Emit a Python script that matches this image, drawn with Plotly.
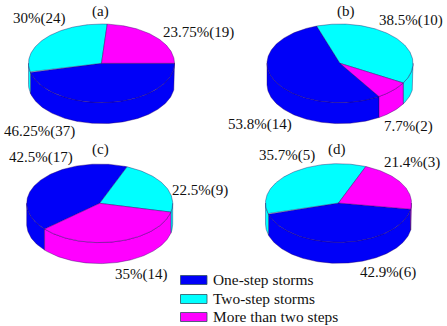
import numpy as np
import plotly.graph_objects as go

# Data
series = ["One-step storms", "Two-step storms", "More than two steps"]
colors = ["#0000f8", "#00ffff", "#ff00ff"]
panel_names = ["(a)", "(b)", "(c)", "(d)"]
counts_a = [37, 24, 19]
counts_b = [14, 10, 2]
counts_c = [17, 9, 14]
counts_d = [6, 5, 3]
percent_a = [46.25, 30, 23.75]
percent_b = [53.8, 38.5, 7.7]
percent_c = [42.5, 22.5, 35]
percent_d = [42.9, 35.7, 21.4]
start_angles = [0, -57.7, 221, -9]      # where the first slice starts, clockwise

# Layout (pixel space of the 447x326 figure)
centres = [(101.5, 63.3), (340, 63.3), (99.7, 203.3), (338.5, 203)]
RX, RY, DEPTH = 73, 39.3, 21
label_xy = {
    "a": [(39, 131), (39, 18), (198, 32)],
    "b": [(260, 124), (411, 20), (408, 126)],
    "c": [(41, 157), (200, 190), (141, 274)],
    "d": [(388, 272), (287, 155), (412, 162)],
}
title_xy = [(100, 11), (346, 11), (100, 149), (337, 149)]
legend_y = [280, 299, 317]
EDGE = "rgba(35,0,90,0.55)"
FONT = "Liberation Serif"


def arc(cx, cy, a1, a2, dy=0.0):
    t = np.radians(np.linspace(a1, a2, max(int(abs(a2 - a1)), 2) + 1))
    return cx + RX * np.cos(t), cy - RY * np.sin(t) + dy


fig = go.Figure()
panels = [percent_a, percent_b, percent_c, percent_d]

for (cx, cy), pct, start in zip(centres, panels, start_angles):
    edges = start - np.concatenate([[0], np.cumsum(pct)]) * 3.6
    # side walls: the part of each slice's rim on the front half of the ellipse
    for i in range(3):
        hi, lo = edges[i], edges[i + 1]
        for k in (-2, -1, 0, 1):
            a = max(lo, 180 + 360 * k)
            b = min(hi, 360 + 360 * k)
            if b > a:
                x1, y1 = arc(cx, cy, a, b)
                x2, y2 = arc(cx, cy, b, a, DEPTH)
                fig.add_trace(go.Scatter(
                    x=np.r_[x1, x2, x1[0]], y=np.r_[y1, y2, y1[0]],
                    mode="lines", fill="toself", fillcolor=colors[i],
                    line=dict(color=EDGE, width=0.7), hoverinfo="skip", showlegend=False))
    # top faces
    for i in range(3):
        x, y = arc(cx, cy, edges[i], edges[i + 1])
        fig.add_trace(go.Scatter(
            x=np.r_[cx, x, cx], y=np.r_[cy, y, cy],
            mode="lines", fill="toself", fillcolor=colors[i],
            line=dict(color=EDGE, width=0.7), name=series[i], showlegend=False))

ann = []
for key, pct, cnt in zip("abcd", panels, [counts_a, counts_b, counts_c, counts_d]):
    for (x, y), p, c in zip(label_xy[key], pct, cnt):
        ann.append(dict(x=x, y=y, text=f"{p:g}%({c})", showarrow=False,
                        xanchor="center", yanchor="middle"))
for (x, y), name in zip(title_xy, panel_names):
    ann.append(dict(x=x, y=y, text=name, showarrow=False, xanchor="center", yanchor="middle"))

shapes = []
for y, name, col in zip(legend_y, series, colors):
    shapes.append(dict(type="rect", x0=180.5, x1=207, y0=y - 4.5, y1=y + 4.5, fillcolor=col,
                       line=dict(color="#305060", width=0.8)))
    ann.append(dict(x=211, y=y - 1, text=name, showarrow=False, xanchor="left", yanchor="middle",
                    font=dict(size=15.4)))

fig.update_layout(
    width=447, height=326, margin=dict(l=0, r=0, t=0, b=0),
    paper_bgcolor="white", plot_bgcolor="white", showlegend=False,
    font=dict(family=FONT, size=15, color="#111111"),
    xaxis=dict(range=[0, 447], visible=False, fixedrange=True),
    yaxis=dict(range=[326, 0], visible=False, fixedrange=True),
    annotations=ann, shapes=shapes,
)
fig.write_html("out.html", config={"displayModeBar": False},
               post_script="document.body.style.margin='0';document.documentElement.style.overflow='hidden';")
